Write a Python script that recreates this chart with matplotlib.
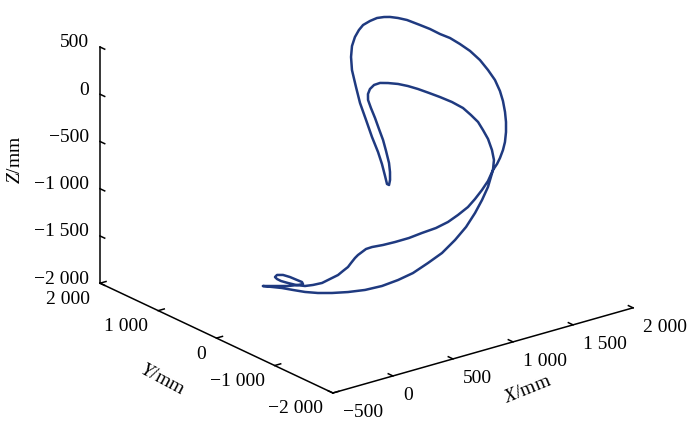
import numpy as np
import matplotlib
matplotlib.use('Agg')
import matplotlib.pyplot as plt
from mpl_toolkits.mplot3d import proj3d

plt.rcParams['font.family'] = ['Liberation Serif', 'DejaVu Serif']
plt.rcParams['mathtext.fontset'] = 'custom'
plt.rcParams['mathtext.rm'] = 'Liberation Serif'
plt.rcParams['mathtext.it'] = 'Liberation Serif:italic'

# ---------------- data (mm) ----------------
x_mm = [-258, -183, -100, -8, 92, 200, 317, 450, 592, 733,
        867, 991, 1116, 1233, 1361, 1472, 1566, 1639, 1703, 1764,
        1782, 1780, 1786, 1773, 1761, 1731, 1694, 1636, 1565, 1503,
        1435, 1376, 1313, 1244, 1192, 1147, 1108, 1077, 1063, 1063,
        1063, 1062, 1062, 1053, 1039, 1018, 999, 976, 964, 972,
        985, 991, 994, 998, 1001, 1016, 1031, 1062, 1099, 1143,
        1186, 1230, 1288, 1341, 1395, 1435, 1487, 1543, 1622, 1681,
        1735, 1794, 1843, 1893, 1937, 1970, 1989, 1992, 1988, 1971,
        1955, 1926, 1893, 1857, 1827, 1798, 1764, 1713, 1653, 1590,
        1522, 1429, 1336, 1231, 1105, 987, 866, 756, 660, 605,
        567, 533, 508, 475, 450, 408, 367, 300, 234, 159,
        92, 17, -50, -108, -141, -158, -141, -91, -33, 25,
        67, 75, 34, -50, -150, -258]
y_mm = [-300, -300, -300, -300, -300, -300, -300, -300, -300, -300,
        -300, -300, -300, -300, -260, -220, -180, -150, -120, -80,
        -60, -30, 50, 110, 170, 230, 290, 360, 420, 480,
        530, 580, 620, 650, 680, 690, 680, 650, 620, 570,
        500, 430, 360, 290, 210, 150, 110, 80, 90, 140,
        220, 300, 410, 520, 630, 730, 830, 910, 970, 1010,
        1030, 1050, 1050, 1040, 1030, 1010, 980, 940, 880, 830,
        770, 720, 650, 580, 500, 430, 350, 270, 210, 140,
        90, 30, -20, -60, -70, -80, -80, -100, -120, -130,
        -150, -170, -190, -200, -220, -240, -250, -270, -280, -290,
        -300, -300, -300, -300, -300, -300, -300, -300, -300, -300,
        -300, -300, -300, -300, -300, -300, -300, -300, -300, -300,
        -300, -300, -300, -300, -300, -300]
z_mm = [-1449, -1486, -1527, -1581, -1638, -1688, -1730, -1768, -1797, -1806,
        -1791, -1762, -1701, -1637, -1557, -1471, -1369, -1266, -1160, -1014,
        -920, -823, -731, -649, -577, -510, -440, -376, -315, -267,
        -215, -177, -144, -118, -107, -115, -141, -174, -223, -294,
        -379, -475, -571, -664, -763, -833, -899, -935, -923, -856,
        -757, -655, -529, -383, -236, -101, 44, 148, 233, 301,
        354, 385, 407, 422, 416, 408, 387, 357, 293, 244,
        189, 140, 79, 8, -81, -178, -267, -362, -449, -538,
        -624, -702, -782, -842, -913, -962, -1014, -1106, -1174, -1244,
        -1298, -1343, -1378, -1401, -1402, -1407, -1403, -1389, -1373, -1371,
        -1386, -1406, -1429, -1470, -1503, -1530, -1558, -1576, -1594, -1588,
        -1575, -1537, -1492, -1450, -1417, -1390, -1374, -1392, -1435, -1487,
        -1524, -1548, -1543, -1524, -1488, -1449]

x_ticks = [-500, 0, 500, 1000, 1500, 2000]
y_ticks = [-2000, -1000, 0, 1000, 2000]
z_ticks = [-2000, -1500, -1000, -500, 0, 500]
x_label, y_label, z_label = r'$\mathit{X}$/mm', r'$\mathit{Y}$/mm', r'$\mathit{Z}$/mm'

# ---------------- figure ----------------
W, H = 700, 441
X_LIM = (x_ticks[0], x_ticks[-1]); Y_LIM = (y_ticks[0], y_ticks[-1]); Z_LIM = (z_ticks[0], z_ticks[-1])

def fmt(v):
    s = f"{abs(v):,}".replace(",", " ")
    return ("\u2212" if v < 0 else "") + s

fig = plt.figure(figsize=(W / 100, H / 100), dpi=100)
ax = fig.add_axes([0.1, 0.1, 0.8, 0.8], projection='3d')
ax.set_proj_type('ortho')
ax.view_init(elev=21.45, azim=-127.8)
ax.set_box_aspect((1, 1, 0.668))
ax.set_xlim(*X_LIM); ax.set_ylim(*Y_LIM); ax.set_zlim(*Z_LIM)
ax.set_axis_off()

def to_px(x, y, z):
    x = np.atleast_1d(np.asarray(x, float)); y = np.atleast_1d(np.asarray(y, float)); z = np.atleast_1d(np.asarray(z, float))
    xs, ys, _ = proj3d.proj_transform(x, y, z, ax.get_proj())
    d = ax.transData.transform(np.column_stack([xs, ys]))
    return np.column_stack([d[:, 0], H - d[:, 1]])

# place the 3D box so its three drawn edges sit where they are in the layout
corner_data = np.array([[X_LIM[0], Y_LIM[0], Z_LIM[0]], [X_LIM[1], Y_LIM[0], Z_LIM[0]],
                        [X_LIM[0], Y_LIM[1], Z_LIM[0]], [X_LIM[0], Y_LIM[1], Z_LIM[1]]], float)
corner_layout = np.array([[333, 393], [633, 308], [100, 283], [100, 47]], float)
for _ in range(4):
    fig.canvas.draw()
    p = to_px(*corner_data.T)
    pm, tm = p.mean(0), corner_layout.mean(0)
    s = np.sum((p - pm) * (corner_layout - tm)) / np.sum((p - pm) ** 2)
    bb = ax.get_position()
    cx, cy = (bb.x0 + bb.x1) / 2 * W, (1 - (bb.y0 + bb.y1) / 2) * H
    L = bb.width * W * s
    ncx = tm[0] - s * (pm[0] - cx)
    ncy = tm[1] - s * (pm[1] - cy)
    ax.set_position([(ncx - L / 2) / W, 1 - (ncy + L / 2) / H, L / W, L / H])
fig.canvas.draw()

# trajectory
ax.plot(x_mm, y_mm, z_mm, color='#1f3a80', lw=1.8,
        solid_capstyle='round', solid_joinstyle='round')

# axis lines and ticks
x0, x1 = X_LIM; y0, y1 = Y_LIM; z0, z1 = Z_LIM
for seg in [[(x0, y0, z0), (x1, y0, z0)], [(x0, y0, z0), (x0, y1, z0)], [(x0, y1, z0), (x0, y1, z1)]]:
    ax.plot(*np.array(seg, float).T, color='k', lw=1.1)
tl_y = 0.02 * (y1 - y0); tl_x = 0.02 * (x1 - x0)
for t in x_ticks:
    ax.plot([t, t], [y0, y0 + tl_y], [z0, z0], color='k', lw=1.1)
for t in y_ticks:
    ax.plot([x0, x0 + tl_x], [t, t], [z0, z0], color='k', lw=1.1)
for t in z_ticks:
    ax.plot([x0, x0], [y1, y1 - tl_y], [t, t], color='k', lw=1.1)

FS = 14
def px_text(px, py, s, **kw):
    fig.text(px / W, 1 - py / H, s, fontsize=FS, **kw)

for t in x_ticks:
    px, py = to_px(t, y0, z0)[0]
    px_text(px + 10, py + 20, fmt(t), ha='left', va='center')
for t in y_ticks:
    px, py = to_px(x0, t, z0)[0]
    px_text(px - 10, py + 16, fmt(t), ha='right', va='center')
for t in z_ticks:
    px, py = to_px(x0, y1, t)[0]
    px_text(px - 11, py - 4, fmt(t), ha='right', va='center')

px_text(15, 160, z_label, ha='center', va='center', rotation=90)
px_text(162, 380, y_label, ha='center', va='center', rotation=-28, rotation_mode='anchor')
px_text(528, 390, x_label, ha='center', va='center', rotation=22, rotation_mode='anchor')

fig.savefig('out.png', dpi=100)
